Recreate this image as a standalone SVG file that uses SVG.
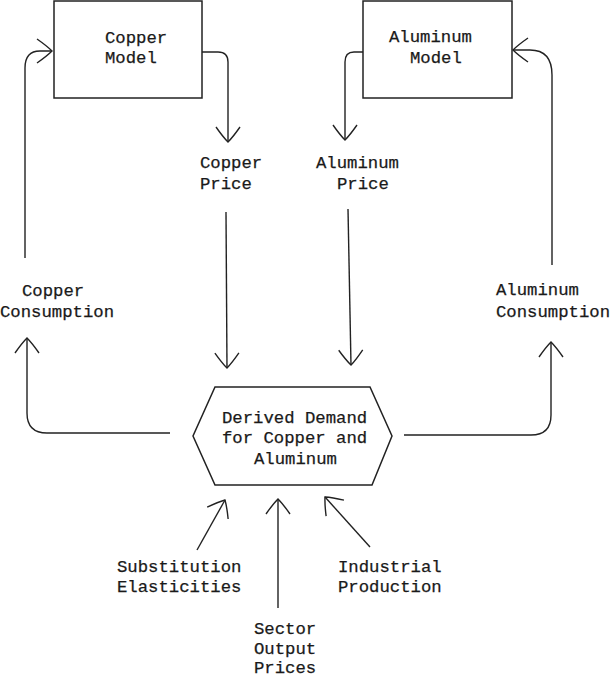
<svg xmlns="http://www.w3.org/2000/svg" width="611" height="678" viewBox="0 0 611 678">
<style>
.t{font-family:"Liberation Mono","Courier New",monospace;font-size:17.3px;fill:#1a1a1a;stroke:#1a1a1a;stroke-width:0.25}
.box{fill:none;stroke:#222;stroke-width:1.5}
.c{fill:none;stroke:#222;stroke-width:1.4;marker-end:url(#arr)}
</style>
<defs>
<marker id="arr" markerUnits="userSpaceOnUse" viewBox="-18 -15 20 30" refX="0" refY="0" markerWidth="20" markerHeight="30" orient="auto" overflow="visible">
<path d="M -15 -12 Q -5 -5 0 0 Q -5 5 -15 12" fill="none" stroke="#222" stroke-width="1.4"/>
</marker>
</defs>
<rect width="611" height="678" fill="#fff"/>
<g id="copper-model">
<rect class="box" x="54" y="1" width="148" height="97"/>
<text class="t" x="105" y="43">Copper</text>
<text class="t" x="105" y="63">Model</text>
</g>
<g id="aluminum-model">
<rect class="box" x="363" y="1" width="149" height="97"/>
<text class="t" x="389" y="42">Aluminum</text>
<text class="t" x="410" y="63">Model</text>
</g>
<g id="copper-price">
<text class="t" x="200" y="168">Copper</text>
<text class="t" x="200" y="189">Price</text>
</g>
<g id="aluminum-price">
<text class="t" x="316" y="168">Aluminum</text>
<text class="t" x="337" y="189">Price</text>
</g>
<g id="copper-consumption">
<text class="t" x="22" y="296">Copper</text>
<text class="t" x="0" y="317">Consumption</text>
</g>
<g id="aluminum-consumption">
<text class="t" x="496" y="295">Aluminum</text>
<text class="t" x="496" y="317">Consumption</text>
</g>
<g id="derived-demand">
<polygon class="box" points="215,387 370,387 392,436 372,485 215,485 193,436"/>
<text class="t" x="222" y="423">Derived Demand</text>
<text class="t" x="222" y="443">for Copper and</text>
<text class="t" x="254" y="464">Aluminum</text>
</g>
<g id="substitution-elasticities">
<text class="t" x="117" y="572">Substitution</text>
<text class="t" x="117" y="592">Elasticities</text>
</g>
<g id="industrial-production">
<text class="t" x="338" y="572">Industrial</text>
<text class="t" x="338" y="592">Production</text>
</g>
<g id="sector-output-prices">
<text class="t" x="254" y="634">Sector</text>
<text class="t" x="254" y="654">Output</text>
<text class="t" x="254" y="673">Prices</text>
</g>
<g id="connectors">
<path class="c" d="M 202 52 L 218 52 Q 228 52 228 62 L 228 142"/>
<path class="c" d="M 363 52 L 354 52 Q 345 52 345 62 L 345 140"/>
<path class="c" d="M 226 212 L 227 368"/>
<path class="c" d="M 348 209 L 351 365"/>
<path class="c" d="M 170 433 L 47 433 Q 27 433 27 413 L 27 338"/>
<path class="c" d="M 404 435 L 531 435 Q 551 435 551 415 L 551 342"/>
<path class="c" d="M 25 258 L 25 68 Q 25 51 40 51 L 52 51"/>
<path class="c" d="M 552 265 L 552 75 Q 552 50 530 50 L 513 50"/>
<path class="c" d="M 197 550 L 225 500"/>
<path class="c" d="M 278 608 L 278 499"/>
<path class="c" d="M 370 547 L 325 497"/>
</g>
</svg>
